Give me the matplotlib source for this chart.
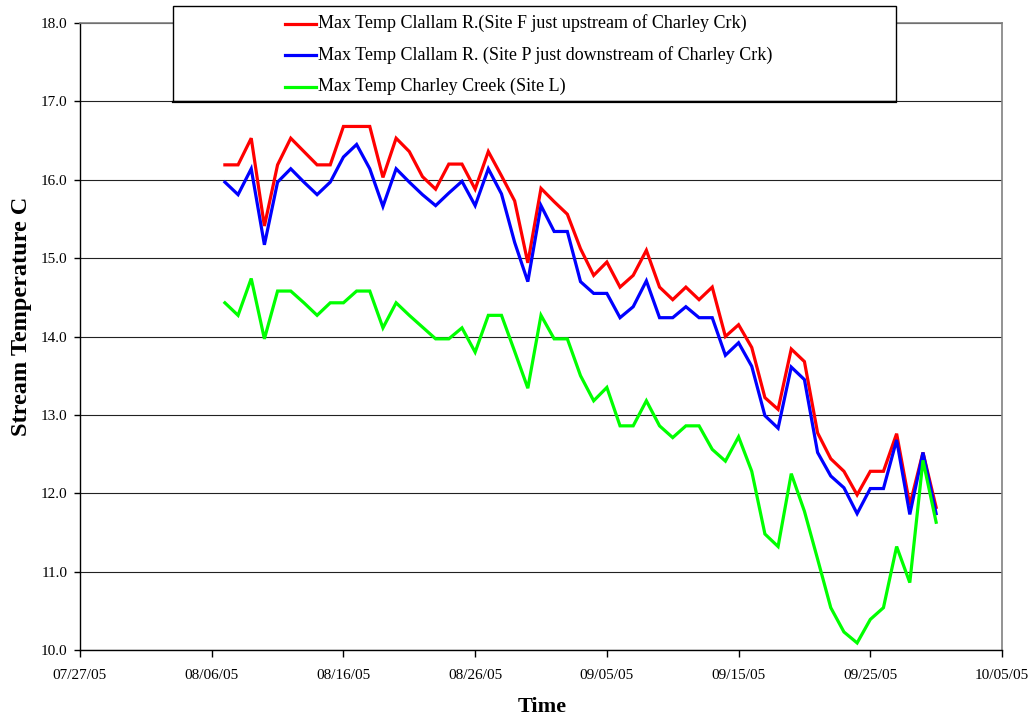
import matplotlib
matplotlib.use("Agg")
import matplotlib.pyplot as plt
import matplotlib.dates as mdates
from matplotlib.patches import Rectangle
from matplotlib.lines import Line2D
import pandas as pd

plt.rcParams['font.family'] = ['Liberation Serif', 'DejaVu Serif']

# Daily maximum stream temperatures (deg C), 8/7/2005 - 9/30/2005
dates = pd.date_range("2005-08-07", "2005-09-30", freq="D")

site_f = [16.19, 16.19, 16.53, 15.41, 16.19, 16.53, 16.36, 16.19, 16.19, 16.68,
          16.68, 16.68, 16.03, 16.53, 16.36, 16.04, 15.88, 16.20, 16.20, 15.88,
          16.36, 16.05, 15.73, 14.94, 15.89, 15.72, 15.56, 15.12, 14.78, 14.95,
          14.63, 14.78, 15.10, 14.63, 14.47, 14.63, 14.47, 14.63, 14.00, 14.15,
          13.86, 13.22, 13.07, 13.84, 13.68, 12.77, 12.44, 12.28, 11.98, 12.28,
          12.28, 12.76, 11.85, 12.52, 11.82]

site_p = [15.97, 15.81, 16.14, 15.17, 15.97, 16.14, 15.97, 15.81, 15.97, 16.29,
          16.45, 16.14, 15.66, 16.14, 15.97, 15.81, 15.67, 15.83, 15.98, 15.67,
          16.14, 15.82, 15.20, 14.70, 15.67, 15.34, 15.34, 14.70, 14.55, 14.55,
          14.24, 14.38, 14.71, 14.24, 14.24, 14.38, 14.24, 14.24, 13.76, 13.92,
          13.62, 12.99, 12.83, 13.61, 13.45, 12.52, 12.22, 12.07, 11.74, 12.06,
          12.06, 12.68, 11.73, 12.52, 11.74]

site_l = [14.43, 14.27, 14.74, 13.97, 14.58, 14.58, 14.43, 14.27, 14.43, 14.43,
          14.58, 14.58, 14.11, 14.43, 14.27, 14.12, 13.97, 13.97, 14.11, 13.80,
          14.27, 14.27, 13.81, 13.34, 14.27, 13.97, 13.97, 13.50, 13.18, 13.35,
          12.86, 12.86, 13.18, 12.86, 12.71, 12.86, 12.86, 12.56, 12.41, 12.72,
          12.28, 11.48, 11.32, 12.25, 11.77, 11.16, 10.54, 10.23, 10.09, 10.39,
          10.54, 11.32, 10.86, 12.42, 11.63]

series_labels = [
    "Max Temp Clallam R.(Site F just upstream of Charley Crk)",
    "Max Temp Clallam R. (Site P just downstream of Charley Crk)",
    "Max Temp Charley Creek (Site L)",
]
series_colors = ["#FF0000", "#0000FF", "#00FF00"]

x_start, x_end = "2005-07-27", "2005-10-05"
y_min, y_max, y_step = 10.0, 18.0, 1.0

W, H = 1033, 721
fig = plt.figure(figsize=(W / 100, H / 100), dpi=100)
ax = fig.add_axes([80 / W, 1 - 650 / H, (1002 - 80) / W, (650 - 23) / H])

for vals, col in zip([site_f, site_p, site_l], series_colors):
    ax.plot(dates, vals, color=col, lw=2.3, solid_joinstyle='miter', zorder=3)

ax.set_xlim(pd.Timestamp(x_start), pd.Timestamp(x_end))
ax.set_ylim(y_min, y_max)
ticks = pd.date_range(x_start, x_end, freq="10D")
ax.set_xticks(ticks)
ax.xaxis.set_major_formatter(mdates.DateFormatter("%m/%d/%y"))
yt = [y_min + i * y_step for i in range(int((y_max - y_min) / y_step) + 1)]
ax.set_yticks(yt)
ax.set_yticklabels([f"{v:.1f}" for v in yt])

ax.yaxis.grid(True, color="#222222", lw=0.8, zorder=1)
ax.set_axisbelow(True)
for side in ["top", "right"]:
    ax.spines[side].set_color("#808080")
    ax.spines[side].set_linewidth(1.2)
for side in ["left", "bottom"]:
    ax.spines[side].set_color("black")
    ax.spines[side].set_linewidth(1.0)

ax.tick_params(axis="both", direction="out", width=1.0,
               labelsize=11, colors="black")
ax.tick_params(axis="x", length=5, pad=9)
ax.tick_params(axis="y", length=4, pad=5)

# Axis titles
fig.text(22 / W, 1 - 316 / H, "Stream Temperature C", rotation=90,
         fontsize=17.5, fontweight="bold", ha="center", va="center")
fig.text(542 / W, 1 - 707 / H, "Time", fontsize=16, fontweight="bold",
         ha="center", va="center")

# Legend box overlapping the top of the plot area
box = Rectangle((173 / W, 1 - 101 / H), (896 - 173) / W, (101 - 6) / H,
                transform=fig.transFigure, facecolor="white", edgecolor="black",
                lw=1.0, zorder=5)
fig.add_artist(box)
fig.add_artist(Line2D([173 / W, 896 / W], [1 - 101.5 / H, 1 - 101.5 / H],
                      transform=fig.transFigure, color="black", lw=1.6, zorder=6))

for i, (lab, col) in enumerate(zip(series_labels, series_colors)):
    yy = 1 - (23.5 + 31.5 * i) / H
    fig.add_artist(Line2D([285 / W, 316 / W], [yy, yy], transform=fig.transFigure,
                          color=col, lw=2.3, zorder=7))
    fig.text(318 / W, yy, lab, fontsize=13, ha="left", va="center", zorder=7)

fig.savefig("out.png", dpi=100)
